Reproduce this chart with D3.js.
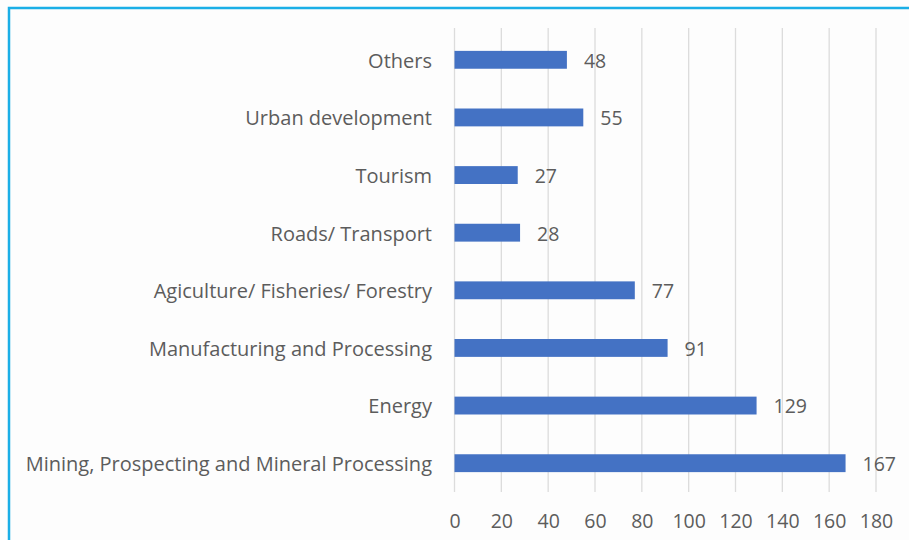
<!DOCTYPE html>
<html>
<head>
<meta charset="utf-8">
<script src="https://cdn.jsdelivr.net/npm/d3@7"></script>
<style>
  html, body { margin: 0; padding: 0; background: #fdfdfd; }
  svg { display: block; }
  text { font-family: "Open Sans", "Noto Sans", sans-serif; fill: #5c5c5c; }
</style>
</head>
<body>
<svg id="chart" width="909" height="540"></svg>
<script>
// Project counts by sector (top to bottom in the drawn order)
const categories = [
  "Others",
  "Urban development",
  "Tourism",
  "Roads/ Transport",
  "Agiculture/ Fisheries/ Forestry",
  "Manufacturing and Processing",
  "Energy",
  "Mining, Prospecting and Mineral Processing"
];
const values = [48, 55, 27, 28, 77, 91, 129, 167];
const xTicks = [0, 20, 40, 60, 80, 100, 120, 140, 160, 180];

const FONT = 19.5;
const CAT_FONT = 20;
const svg = d3.select("#chart");

// Frame around the panel
svg.append("rect")
  .attr("x", 9).attr("y", 8)
  .attr("width", 920).attr("height", 560)
  .attr("fill", "#fdfdfd")
  .attr("stroke", "#1aaee6")
  .attr("stroke-width", 2.5);

const x = d3.scaleLinear().domain([0, 180]).range([454.5, 876]);
const y = d3.scaleBand().domain(categories).range([31, 492]).paddingInner(0.69).paddingOuter(0.345);

// Vertical gridlines
svg.append("g")
  .selectAll("line")
  .data(xTicks)
  .join("line")
  .attr("x1", d => x(d)).attr("x2", d => x(d))
  .attr("y1", 28).attr("y2", 492)
  .attr("stroke", "#dcdcdc")
  .attr("stroke-width", 1.3);

// Bottom axis labels
const xAxis = d3.axisBottom(x).tickValues(xTicks).tickSize(0).tickPadding(0);
const gx = svg.append("g").attr("transform", "translate(0,521)").call(xAxis);
gx.select(".domain").remove();
gx.selectAll("text")
  .attr("font-size", FONT)
  .attr("dy", "0.35em")
  .style("font-family", '"Open Sans", sans-serif')
  .attr("fill", "#5c5c5c");

// Category labels
const yAxis = d3.axisLeft(y).tickSize(0).tickPadding(0);
const gy = svg.append("g").attr("transform", "translate(432,1.5)").call(yAxis);
gy.select(".domain").remove();
gy.selectAll("text")
  .attr("font-size", CAT_FONT)
  .style("font-family", '"Open Sans", sans-serif')
  .attr("fill", "#5c5c5c");

// Bars
svg.append("g")
  .selectAll("rect")
  .data(values)
  .join("rect")
  .attr("x", x(0))
  .attr("y", (d, i) => y(categories[i]))
  .attr("width", d => x(d) - x(0))
  .attr("height", y.bandwidth())
  .attr("fill", "#4472c4");

// Value labels
svg.append("g")
  .selectAll("text")
  .data(values)
  .join("text")
  .attr("x", d => x(d) + 17)
  .attr("y", (d, i) => y(categories[i]) + y.bandwidth() / 2 + 1)
  .attr("dy", "0.35em")
  .attr("font-size", FONT)
  .text(d => d);
</script>
</body>
</html>
